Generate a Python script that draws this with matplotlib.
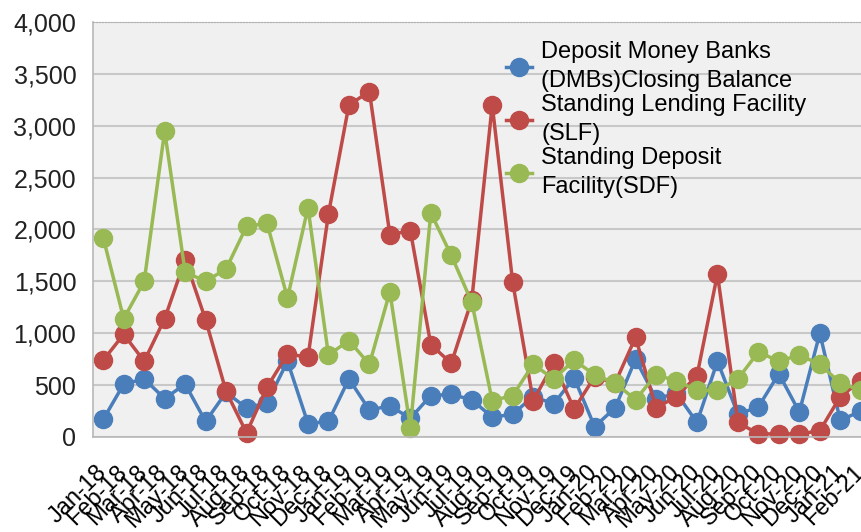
import matplotlib.pyplot as plt

plt.rcParams['font.family'] = ['Liberation Sans', 'DejaVu Sans']

months = ['Jan-18', 'Feb-18', 'Mar-18', 'Apr-18', 'May-18', 'Jun-18', 'Jul-18', 'Aug-18',
          'Sep-18', 'Oct-18', 'Nov-18', 'Dec-18', 'Jan-19', 'Feb-19', 'Mar-19', 'Apr-19',
          'May-19', 'Jun-19', 'Jul-19', 'Aug-19', 'Sep-19', 'Oct-19', 'Nov-19', 'Dec-19',
          'Jan-20', 'Feb-20', 'Mar-20', 'Apr-20', 'May-20', 'Jun-20', 'Jul-20', 'Aug-20',
          'Sep-20', 'Oct-20', 'Nov-20', 'Dec-20', 'Jan-21', 'Feb-21']

dmb = [170, 510, 560, 370, 510, 150, 430, 280, 330, 730, 130, 150, 560, 260, 300, 180,
       400, 410, 360, 190, 220, 390, 320, 570, 100, 280, 750, 370, 420, 140, 730, 220,
       290, 610, 240, 1000, 160, 250]
slf = [740, 990, 730, 1140, 1710, 1130, 440, 40, 480, 800, 770, 2150, 3200, 3330, 1950, 1990,
       890, 710, 1320, 3200, 1490, 350, 710, 270, 580, 520, 960, 280, 390, 590, 1570, 140,
       30, 30, 30, 60, 390, 540]
sdf = [1920, 1140, 1500, 2950, 1590, 1500, 1620, 2030, 2060, 1340, 2210, 790, 930, 700, 1400, 90,
       2160, 1750, 1300, 350, 400, 700, 560, 740, 600, 520, 360, 600, 540, 450, 450, 560,
       820, 730, 790, 700, 520, 450]

series = [
    ("Deposit Money Banks\n(DMBs)Closing Balance", dmb, "#4a7ebb"),
    ("Standing Lending Facility\n(SLF)", slf, "#be4b48"),
    ("Standing Deposit\nFacility(SDF)", sdf, "#98b954"),
]

fig = plt.figure(figsize=(8.61, 5.32), dpi=100)
# plot area runs past the right edge of the picture, like the cropped original
ax = fig.add_axes([93 / 861, 95 / 532, 778 / 861, 415 / 532])
ax.set_facecolor('#f0f0f0')

x = list(range(len(months)))
for label, vals, col in series:
    ax.plot(x, vals, color=col, linewidth=2.5, marker='o', markersize=13,
            label=label, clip_on=False)

ax.set_xlim(-0.5, len(months) - 0.5)
ax.set_ylim(0, 4000)
ax.set_yticks(range(0, 4001, 500))
ax.set_yticklabels([f"{v:,}" for v in range(0, 4001, 500)], fontsize=18, color='#222222')
ax.yaxis.grid(True, color='#c8c8c8', linewidth=1.5)
ax.set_axisbelow(True)
ax.tick_params(axis='y', length=0, pad=12)
ax.tick_params(axis='x', length=0, pad=23)
ax.set_xticks(x)
ax.set_xticklabels(months, rotation=45, ha='right', va='center',
                   rotation_mode='anchor', fontsize=17)

for s in ['left', 'bottom']:
    ax.spines[s].set_color('#b8b8b8')
    ax.spines[s].set_linewidth(1.2)
ax.spines['top'].set_color('#b0b0b0')
ax.spines['top'].set_linestyle(':')
ax.spines['right'].set_visible(False)

leg = ax.legend(loc='upper left', bbox_to_anchor=(506 / 861, 1 - 41 / 532),
                bbox_transform=fig.transFigure, frameon=False, fontsize=17,
                handlelength=1.1, handletextpad=0.4, labelspacing=0.1,
                borderpad=0, borderaxespad=0)
for t in leg.get_texts():
    t.set_linespacing(1.4)

fig.savefig('out.png', dpi=100)
